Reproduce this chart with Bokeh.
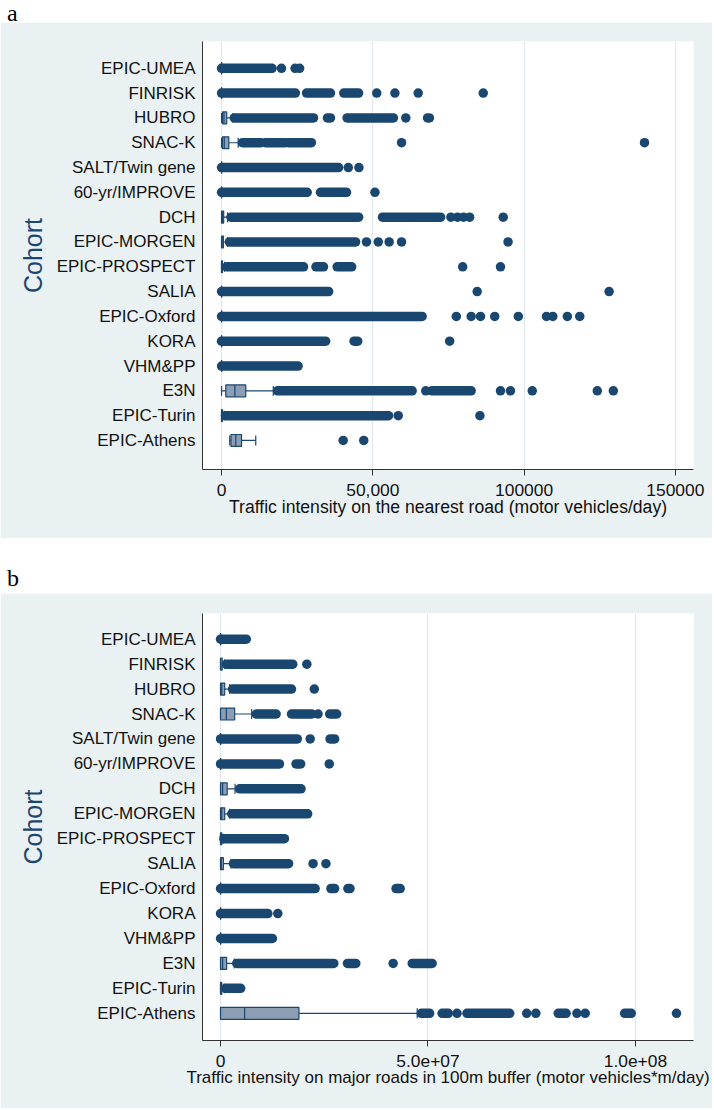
from bokeh.plotting import figure
from bokeh.models import FixedTicker, Div, Range1d
from bokeh.layouts import column
from bokeh.embed import file_html
from bokeh.resources import INLINE

cohorts = ["EPIC-UMEA", "FINRISK", "HUBRO", "SNAC-K", "SALT/Twin gene",
           "60-yr/IMPROVE", "DCH", "EPIC-MORGEN", "EPIC-PROSPECT", "SALIA",
           "EPIC-Oxford", "KORA", "VHM&PP", "E3N", "EPIC-Turin", "EPIC-Athens"]

# ---------- Panel a: traffic intensity on the nearest road (vehicles/day)
a_lw = [0, 0, 0, 0, 0, 0, 0, 0, 0, 0, 0, 0, 0, 0, 0, 2700]
a_q1 = [0, 0, 300, 300, 0, 0, 0, 0, 0, 0, 0, 0, 0, 1400, 0, 3100]
a_med = [0, 0, 800, 900, 0, 0, 300, 200, 0, 0, 0, 0, 0, 4400, 0, 4700]
a_q3 = [0, 0, 1700, 2400, 0, 0, 700, 600, 300, 0, 0, 0, 0, 8000, 300, 6600]
a_uw = [0, 0, 3800, 5500, 0, 0, 2000, 2000, 1000, 0, 0, 0, 0, 17100, 900, 11300]
a_dense = [
    [(0, 16700)],
    [(0, 24400), (28100, 36000), (40400, 45300)],
    [(4200, 30400), (35000, 36000), (41500, 56800), (68100, 68700)],
    [(6900, 13000), (14500, 21000), (22000, 29700)],
    [(0, 38700)],
    [(0, 28300), (32700, 41300)],
    [(3100, 45300), (53200, 72400)],
    [(2600, 44300)],
    [(1700, 27100), (31200, 33700), (38200, 43000)],
    [(0, 35400)],
    [(0, 66300)],
    [(0, 34400), (43800, 45000)],
    [(0, 25300)],
    [(18500, 63000), (69500, 82500)],
    [(1300, 55200)],
    [],
]
a_points = [
    [19800, 24300, 25800],
    [51300, 57300, 65000, 86500],
    [60900],
    [59500, 139800],
    [41900, 45400],
    [50700],
    [75800, 78000, 80000, 82000, 93100],
    [47900, 51800, 55400, 59500, 94700],
    [79700, 92200],
    [84500, 128100],
    [77600, 82500, 85600, 90300, 98100, 107400, 109500, 114300, 118400],
    [75400],
    [],
    [67500, 92200, 95500, 102700, 124200, 129500],
    [58400, 85400],
    [40200, 47000],
]
a_ticks = [0, 50000, 100000, 150000]
a_tick_labels = ["0", "50,000", "100000", "150000"]
a_title = "Traffic intensity on the nearest road (motor vehicles/day)"

# ---------- Panel b: traffic intensity on major roads in 100 m buffer
b_lw = [0, 0, 0, 0, 0, 0, 0, 0, 0, 0, 0, 0, 0, 0, 0, 0]
b_q1 = [0, 0, 0, 0, 0, 0, 0, 0, 0, 0, 0, 0, 0, 0, 0, 0]
b_med = [0, 0, 300000, 1400000, 0, 0, 500000, 300000, 0, 200000, 0, 0, 0, 500000, 0, 5800000]
b_q3 = [0, 400000, 1000000, 3400000, 0, 0, 1600000, 1000000, 300000, 700000, 0, 0, 0, 1470000, 300000, 18900000]
b_uw = [0, 1000000, 2200000, 7500000, 0, 0, 3500000, 2200000, 600000, 2500000, 0, 0, 0, 3300000, 900000, 47400000]
b_dense = [
    [(0, 6200000)],
    [(1400000, 17400000)],
    [(2900000, 17100000)],
    [(8600000, 13400000), (17100000, 22000000), (26300000, 28000000)],
    [(0, 18500000), (26400000, 27500000)],
    [(0, 14200000), (18200000, 19300000)],
    [(4600000, 19400000)],
    [(2700000, 21000000)],
    [(800000, 15400000)],
    [(3100000, 16400000)],
    [(0, 22800000), (26600000, 27500000), (30700000, 31200000), (42300000, 43300000)],
    [(0, 11400000)],
    [(0, 12500000)],
    [(3900000, 27300000), (30600000, 32600000), (46200000, 51000000)],
    [(1200000, 4850000)],
    [(48400000, 50400000), (53400000, 54900000), (59400000, 69700000),
     (81400000, 83300000), (97400000, 99000000)],
]
b_points = [
    [],
    [20800000],
    [22600000],
    [23500000],
    [21600000],
    [26200000],
    [],
    [],
    [],
    [22300000, 25400000],
    [],
    [13800000],
    [],
    [41600000],
    [],
    [57000000, 73800000, 76000000, 85900000, 87900000, 109900000],
]
b_ticks = [0, 50000000, 100000000]
b_tick_labels = ["0", "5.0e+07", "1.0e+08"]
b_title = "Traffic intensity on major roads in 100m buffer (motor vehicles*m/day)"

NAVY = "#1a476f"
BOXFILL = "#8d9eb4"
PANEL = "#eaf1f3"
GRID = "#dfe9ed"
AXIS = "#333333"
FONT = "Liberation Sans"


def make_panel(lw, q1, med, q3, uw, dense, points, xr, yr, ticks, tick_labels,
               xtitle, height, top, bottom, title_size):
    n = len(cohorts)
    ys = [n - i for i in range(n)]
    p = figure(width=712, height=height, x_range=Range1d(*xr), y_range=Range1d(*yr),
               output_backend="svg", toolbar_location=None,
               min_border_left=202, min_border_right=19,
               min_border_top=top, min_border_bottom=bottom)
    p.background_fill_color = "white"
    p.border_fill_color = PANEL
    p.outline_line_color = None

    bh = 0.24
    ch = 0.2
    # whiskers
    p.segment(x0=lw, y0=ys, x1=q1, y1=ys, line_color=NAVY, line_width=1.2)
    p.segment(x0=q3, y0=ys, x1=uw, y1=ys, line_color=NAVY, line_width=1.2)
    p.segment(x0=lw, y0=[y - ch for y in ys], x1=lw, y1=[y + ch for y in ys],
              line_color=NAVY, line_width=1.2)
    p.segment(x0=uw, y0=[y - ch for y in ys], x1=uw, y1=[y + ch for y in ys],
              line_color=NAVY, line_width=1.2)
    # boxes
    p.quad(left=q1, right=q3, bottom=[y - bh for y in ys], top=[y + bh for y in ys],
           fill_color=BOXFILL, line_color=NAVY, line_width=1.2)
    p.segment(x0=med, y0=[y - bh for y in ys], x1=med, y1=[y + bh for y in ys],
              line_color=NAVY, line_width=1.2)
    # dense runs of outside values
    dx0, dx1, dy = [], [], []
    for y, runs in zip(ys, dense):
        for s, e in runs:
            dx0.append(s)
            dx1.append(e)
            dy.append(y)
    p.segment(x0=dx0, y0=dy, x1=dx1, y1=dy, line_color=NAVY, line_width=9.5,
              line_cap="round")
    # single outside values
    px, py = [], []
    for y, pts in zip(ys, points):
        for v in pts:
            px.append(v)
            py.append(y)
    p.scatter(x=px, y=py, size=9.5, marker="circle", fill_color=NAVY, line_color=None)

    # axes
    p.yaxis.ticker = FixedTicker(ticks=ys)
    p.yaxis.major_label_overrides = {y: c for y, c in zip(ys, cohorts)}
    p.yaxis.major_tick_out = 0
    p.yaxis.major_tick_in = 0
    p.yaxis.minor_tick_out = 0
    p.yaxis.minor_tick_in = 0
    p.yaxis.major_label_standoff = 7
    p.yaxis.major_label_text_font = FONT
    p.yaxis.major_label_text_font_size = "17px"
    p.yaxis.major_label_text_color = "#111111"
    p.yaxis.axis_line_color = AXIS
    p.yaxis.axis_label = "Cohort"
    p.yaxis.axis_label_text_font = FONT
    p.yaxis.axis_label_text_font_size = "25px"
    p.yaxis.axis_label_text_font_style = "normal"
    p.yaxis.axis_label_text_color = NAVY
    p.yaxis.axis_label_standoff = 7

    p.xaxis.ticker = FixedTicker(ticks=ticks)
    p.xaxis.major_label_overrides = {t: l for t, l in zip(ticks, tick_labels)}
    p.xaxis.major_tick_out = 6
    p.xaxis.major_tick_in = 0
    p.xaxis.minor_tick_out = 0
    p.xaxis.minor_tick_in = 0
    p.xaxis.major_tick_line_color = AXIS
    p.xaxis.major_label_standoff = 8
    p.xaxis.major_label_text_font = FONT
    p.xaxis.major_label_text_font_size = "17.4px"
    p.xaxis.major_label_text_color = "#111111"
    p.xaxis.axis_line_color = AXIS
    p.xaxis.axis_label = xtitle
    p.xaxis.axis_label_text_font = FONT
    p.xaxis.axis_label_text_font_size = title_size
    p.xaxis.axis_label_text_font_style = "normal"
    p.xaxis.axis_label_text_color = "#111111"
    p.xaxis.axis_label_standoff = -2

    p.xgrid.ticker = FixedTicker(ticks=ticks)
    p.xgrid.grid_line_color = GRID
    p.xgrid.grid_line_width = 1.2
    p.ygrid.visible = False
    return p


pa = make_panel(a_lw, a_q1, a_med, a_q3, a_uw, a_dense, a_points,
                (-6300, 156000), (-0.17, 17.08), a_ticks, a_tick_labels, a_title,
                516, 19, 69, "17.6px")
pb = make_panel(b_lw, b_q1, b_med, b_q3, b_uw, b_dense, b_points,
                (-4350000, 114000000), (-0.09, 17.03), b_ticks, b_tick_labels, b_title,
                515, 20, 68, "17px")

LETTER = ("<div style=\"font-family:'Liberation Serif','DejaVu Serif',serif;"
          "font-size:24px;line-height:27px;position:relative;top:{top}px;left:7px;"
          "color:#000\">{t}</div>")
div_a = Div(text=LETTER.format(top=0, t="a"), width=712, height=22, margin=(0, 0, 0, 0))
div_b = Div(text=LETTER.format(top=27, t="b"), width=712, height=55, margin=(0, 0, 0, 0))

layout = column(div_a, pa, div_b, pb, spacing=0)
open("out.html", "w").write(file_html(layout, INLINE))
